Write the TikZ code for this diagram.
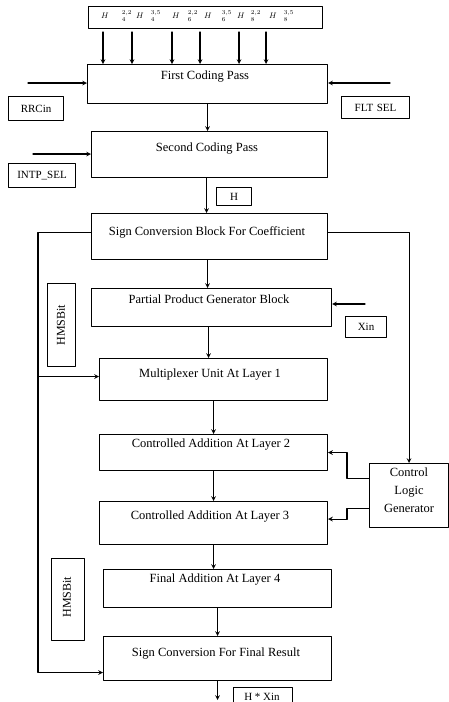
\documentclass[tikz,border=0pt]{standalone}
\usepackage{fontspec}
\setmainfont{Liberation Serif}
\usetikzlibrary{positioning}
\begin{document}
\begin{tikzpicture}[x=1pt, y=-1pt, line cap=round, line join=round, >=stealth, line width=1.1pt,
		font=\fontsize{12.5}{17}\selectfont]
	\tikzset{blk/.style={draw, anchor=north west, inner sep=0pt},
		tag/.style={blk, font=\fontsize{11}{13}\selectfont},
		coefH/.style={inner sep=0pt, font=\fontsize{8}{9}\selectfont},
		txt/.style={inner sep=0pt, align=center}}
	\useasboundingbox (0,0) rectangle (449,702);

	% coefficient bus on top
	\node[blk, minimum width=234pt, minimum height=22pt] (coef) at (88,6) {};
	\foreach \hx/\sx/\sb/\sp [count=\i] in {105/127/4/{2,2}, 140/156/4/{3,5}, 176/193/6/{2,2},
			208/227/6/{3,5}, 241/256/8/{2,2}, 273/289/8/{3,5}} {
		\node[coefH] (h\i) at (\hx,16) {$H$};
		\node[coefH] (s\i) at (\sx,16) {${}^{\sp}_{\sb}$};
	}

	% main blocks
	\node[blk, minimum width=240pt, minimum height=39pt] (fcp) at (87,64) {};
	\node[blk, minimum width=236pt, minimum height=46pt] (scp) at (91,131) {};
	\node[blk, minimum width=236pt, minimum height=46pt] (scb) at (91,213) {};
	\node[blk, minimum width=240pt, minimum height=38pt] (ppg) at (91,288) {};
	\node[blk, minimum width=228pt, minimum height=42pt] (mux) at (99,358) {};
	\node[blk, minimum width=228pt, minimum height=36pt] (ca2) at (99,434) {};
	\node[blk, minimum width=228pt, minimum height=43pt] (ca3) at (99,501) {};
	\node[blk, minimum width=228pt, minimum height=38pt] (fin) at (103,569) {};
	\node[blk, minimum width=228pt, minimum height=44pt] (scf) at (103,636) {};
	\node[blk, minimum width=79pt, minimum height=64pt] (clg) at (369,463) {};

	\node[txt] (fcpT) at (205,77) {First Coding Pass};
	\node[txt] (scpT) at (207,149) {Second Coding Pass};
	\node[txt] (scbT) at (207,232) {Sign Conversion Block For Coefficient};
	\node[txt] (ppgT) at (209,299) {Partial Product Generator Block};
	\node[txt] (muxT) at (210,375) {Multiplexer Unit At Layer 1};
	\node[txt] (ca2T) at (211,445) {Controlled Addition At Layer 2};
	\node[txt] (ca3T) at (210,517) {Controlled Addition At Layer 3};
	\node[txt] (finT) at (215,580) {Final Addition At Layer 4};
	\node[txt] (scfT) at (216,654) {Sign Conversion For Final Result};
	\node[txt, font=\fontsize{12.5}{18}\selectfont] (clgT) at (409,490) {Control\\Logic\\Generator};

	% signal tags
	\node[tag, minimum width=55pt, minimum height=24pt] (rrc) at (8,96) {RRCin};
	\node[tag, minimum width=68pt, minimum height=22pt] (flt) at (341,96) {FLT\,\,SEL};
	\node[tag, minimum width=67pt, minimum height=24pt] (intp) at (8,163) {INTP\_SEL};
	\node[tag, minimum width=35pt, minimum height=18pt] (hTag) at (216,187) {H};
	\node[tag, minimum width=41pt, minimum height=21pt] (xin) at (345,316) {Xin};
	\node[tag, minimum width=28pt, minimum height=83pt] (msbA) at (47,283) {};
	\node[tag, minimum width=33pt, minimum height=82pt] (msbB) at (51,558) {};
	\node[txt, rotate=90, font=\fontsize{12}{13}\selectfont] (msbAT) at (61,325) {HMSBit};
	\node[txt, rotate=90, font=\fontsize{12}{13}\selectfont] (msbBT) at (67,597) {HMSBit};
	\node[tag, minimum width=59pt, minimum height=24pt] (prod) at (233,687) {};
	\node[txt, font=\fontsize{11}{13}\selectfont] (prodT) at (262,697) {H * Xin};

	% coefficient inputs
	\foreach \x [count=\i] in {103,132,172,200,239,266} {
		\coordinate (t\i) at (\x,32);
		\draw[->] (t\i) -- (t\i |- fcp.north);
	}

	% side inputs
	\coordinate (rrcIn) at (28,83);
	\coordinate (fltIn) at (390,83);
	\coordinate (intpIn) at (33,154);
	\coordinate (xinIn) at (365,304);
	\draw[->] (rrcIn) -- (rrcIn -| fcp.west);
	\draw[->] (fltIn) -- (fltIn -| fcp.east);
	\draw[->] (intpIn) -- (intpIn -| scp.west);
	\draw[->] (xinIn) -- (xinIn -| ppg.east);

	% main data path
	\draw[->] (fcp.south) -- (fcp.south |- scp.north);
	\draw[->] ([xshift=-3pt]scp.south) -- ([xshift=-3pt]scp.south |- scb.north);
	\draw[->] ([xshift=-2pt]scb.south) -- ([xshift=-2pt]scb.south |- ppg.north);
	\draw[->] ([xshift=-3pt]ppg.south) -- ([xshift=-3pt]ppg.south |- mux.north);
	\draw[->] (mux.south) -- (ca2.north);
	\draw[->] (ca2.south) -- (ca3.north);
	\draw[->] (ca3.south) -- (ca3.south |- fin.north);
	\draw[->] (fin.south) -- (scf.north);
	\coordinate (out) at (216,700);
	\draw[->] (scf.south) -- (scf.south |- out);

	% sign bit paths
	\draw[->] ([yshift=4pt]scb.west) -| ([xshift=-65pt, yshift=-14pt]scf.west) -- ([yshift=-14pt]scf.west);
	\draw[<-] ([yshift=3pt]mux.west) -- +(-61pt,0);
	\draw[->] ([yshift=4pt]scb.east) -| (clg.north);

	% control lines
	\draw[->] ([yshift=17pt]clg.west) -- ++(-22pt,0) |- (ca2.east);
	\draw[->] ([yshift=-13pt]clg.west) -- ++(-22pt,0) |- ([yshift=4pt]ca3.east);
\end{tikzpicture}
\end{document}
